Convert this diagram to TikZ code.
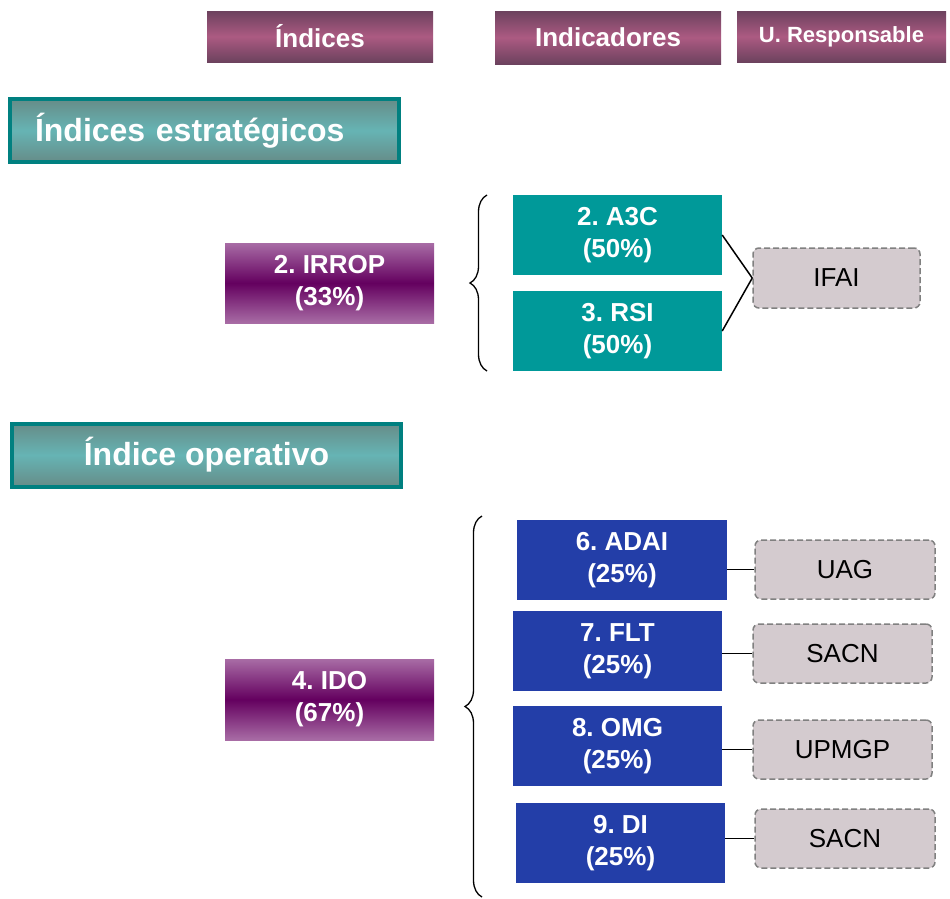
\documentclass[tikz,border=0pt]{standalone}
\usepackage{fontspec}
\setmainfont{Liberation Sans}
\frenchspacing
\usetikzlibrary{decorations.pathreplacing}
\definecolor{mauvedark}{RGB}{108,66,94}
\definecolor{mauvemid}{RGB}{172,90,130}
\definecolor{plumlight}{RGB}{168,108,165}
\definecolor{plumdark}{RGB}{100,0,95}
\definecolor{tealrim}{RGB}{0,128,128}
\definecolor{tealgrey}{RGB}{102,140,136}
\definecolor{tealsoft}{RGB}{102,180,180}
\definecolor{tealbox}{RGB}{0,153,153}
\definecolor{bluebox}{RGB}{35,62,168}
\definecolor{unitfill}{RGB}{212,203,207}
\definecolor{unitrim}{RGB}{128,128,128}
\tikzset{
  colhead/.style={inner sep=0pt, text=white, font=\fontsize{26}{31}\selectfont\bfseries,
    top color=mauvedark, bottom color=mauvedark, middle color=mauvemid},
  section/.style={draw=tealrim, line width=4pt, inner sep=0pt, minimum height=63pt, text=white,
    font=\fontsize{32}{38}\selectfont\bfseries, top color=tealgrey, bottom color=tealgrey, middle color=tealsoft},
  index/.style={inner sep=0pt, minimum width=209pt, minimum height=80pt, align=center, text=white,
    font=\fontsize{26}{32}\selectfont\bfseries, top color=plumlight, bottom color=plumlight, middle color=plumdark},
  indic/.style={inner sep=0pt, minimum width=209pt, minimum height=80pt, align=center, text=white,
    font=\fontsize{26}{32}\selectfont\bfseries},
  unit/.style={draw=unitrim, fill=unitfill, line width=1.5pt, dash pattern=on 6pt off 3pt,
    rounded corners=6pt, inner sep=0pt, minimum width=179pt, minimum height=59pt,
    font=\fontsize{26}{31}\selectfont},
  link/.style={line width=1.5pt, black},
  curly/.style={line width=1.3pt, decorate, decoration={brace, amplitude=17pt}}
}
\begin{document}
\begin{tikzpicture}[x=1pt, y=-1pt]
\useasboundingbox (0,0) rectangle (950,898);

\node[colhead, minimum width=226pt, minimum height=51pt] (hind) at (320,36.5) {Índices};
\node[colhead, minimum width=226pt, minimum height=53pt] (hindic) at (608,37.5) {Indicadores};
\node[colhead, minimum width=209pt, minimum height=51pt, font=\fontsize{22}{26}\selectfont\bfseries] (hresp) at (841.5,36.5) {U. Responsable};

\node[section, text width=339pt, align=left, inner xsep=25pt] (estr) at (204.5,130.5) {Índices estratégicos};
\node[section, minimum width=389pt] (oper) at (206.5,455) {Índice operativo};

\node[index] (irrop) at (329.5,283) {2. IRROP\\(33\%)};
\node[index, minimum height=81pt] (ido) at (329.5,699.5) {4. IDO\\(67\%)};

\node[indic, fill=tealbox] (atc) at (617.5,235) {2. A3C\\(50\%)};
\node[indic, fill=tealbox] (rsi) at (617.5,331) {3. RSI\\(50\%)};

\node[indic, fill=bluebox, minimum width=210pt] (adai) at (622,560) {6. ADAI\\(25\%)};
\node[indic, fill=bluebox] (flt) at (617.5,651) {7. FLT\\(25\%)};
\node[indic, fill=bluebox] (omg) at (617.5,746) {8. OMG\\(25\%)};
\node[indic, fill=bluebox] (di) at (620.5,843) {9. DI\\(25\%)};

\node[unit, minimum width=167pt, minimum height=60pt] (ifai) at (836.5,278) {IFAI};
\node[unit, minimum width=180pt] (uag) at (845,569.5) {UAG};
\node[unit] (sacna) at (842.5,653.5) {SACN};
\node[unit] (upmgp) at (842.5,749.5) {UPMGP};
\node[unit, minimum width=180pt] (sacnb) at (845,838.5) {SACN};

\coordinate (brtop) at (487,195);
\coordinate (brbot) at (487,371);
\coordinate (bltop) at (482,516);
\coordinate (blbot) at (482,897);

\draw[curly] (brbot) -- (brtop);
\draw[curly] (blbot) -- (bltop);

\draw[link] (atc.east) -- (ifai.west);
\draw[link] (rsi.east) -- (ifai.west);
\draw[link] (uag.west) -- (uag.west -| adai.east);
\draw[link] (sacna.west) -- (sacna.west -| flt.east);
\draw[link] (upmgp.west) -- (upmgp.west -| omg.east);
\draw[link] (sacnb.west) -- (sacnb.west -| di.east);

\end{tikzpicture}
\end{document}
